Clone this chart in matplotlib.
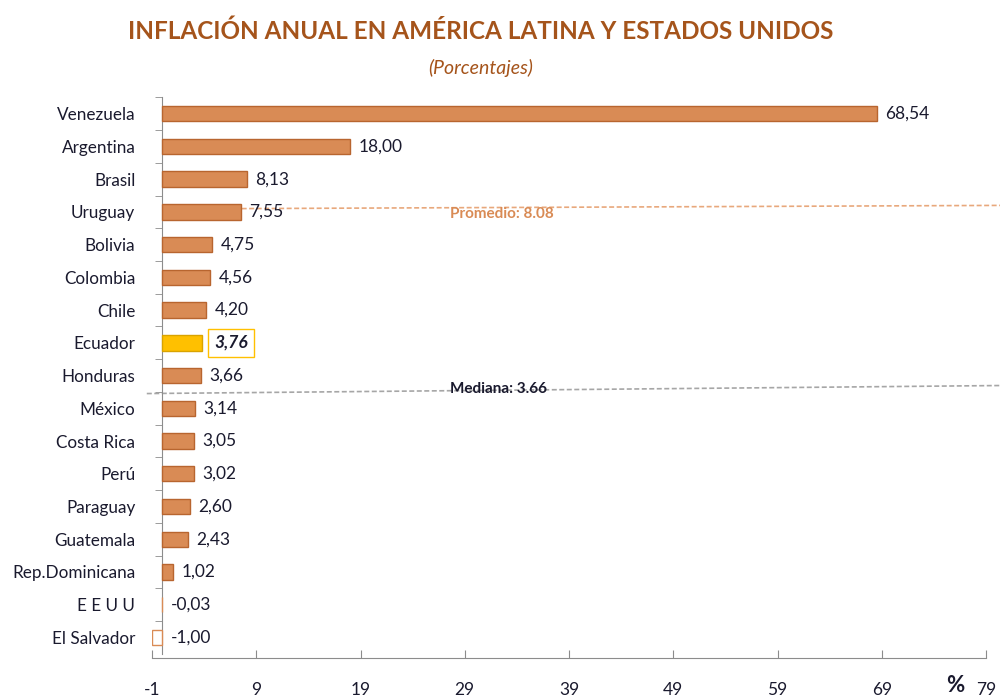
"""Annual inflation bar chart, Latin America and US."""
import matplotlib

matplotlib.use("Agg")
from matplotlib import pyplot as plt

countries = [
    "Venezuela", "Argentina", "Brasil", "Uruguay", "Bolivia", "Colombia", "Chile",
    "Ecuador", "Honduras", "México", "Costa Rica", "Perú", "Paraguay", "Guatemala",
    "Rep.Dominicana", "E E U U", "El Salvador",
]
inflation = [68.54, 18.00, 8.13, 7.55, 4.75, 4.56, 4.20, 3.76, 3.66, 3.14, 3.05,
             3.02, 2.60, 2.43, 1.02, -0.03, -1.00]
value_labels = ["68,54", "18,00", "8,13", "7,55", "4,75", "4,56", "4,20", "3,76", "3,66",
                "3,14", "3,05", "3,02", "2,60", "2,43", "1,02", "-0,03", "-1,00"]
x_ticks = [-1, 9, 19, 29, 39, 49, 59, 69, 79]
promedio = 8.08
mediana = 3.66
highlight = "Ecuador"

BAR = "#D98B55"
EDGE = "#B8652F"
YELLOW = "#FFC000"
TITLE = "#A5541B"
TEXT = "#1a1a2e"

plt.rcParams["font.family"] = ["Lato", "DejaVu Sans"]

fig = plt.figure(figsize=(10, 7), dpi=100)
ax = fig.add_axes([0.152, 0.066, 0.834, 0.795])

ypos = list(range(len(countries)))
for y, name, val in zip(ypos, countries, inflation):
    if name == highlight:
        face, edge = YELLOW, "#D9A300"
    elif val < 0:
        face, edge = "white", BAR
    else:
        face, edge = BAR, EDGE
    ax.barh(y, val, height=0.47, color=face, edgecolor=edge, linewidth=1.0, zorder=3)

for y, name, val, lab in zip(ypos, countries, inflation, value_labels):
    x = max(val, 0) + 0.8
    if name == highlight:
        ax.text(x + 0.4, y, lab, va="center", ha="left", fontsize=12.5, color=TEXT,
                fontweight="bold", fontstyle="italic",
                bbox=dict(boxstyle="square,pad=0.35", fc="white", ec=YELLOW, lw=1.0))
    else:
        ax.text(x, y, lab, va="center", ha="left", fontsize=12.5, color=TEXT)

ax.set_xlim(x_ticks[0], x_ticks[-1])
ax.set_ylim(len(countries) - 0.5, -0.5)
ax.set_xticks(x_ticks)
ax.set_xticklabels([str(t) for t in x_ticks])
ax.set_yticks(ypos)
ax.set_yticklabels(countries)
ax.set_yticks([y + 0.5 for y in ypos[:-1]] + [-0.5], minor=True)
ax.tick_params(axis="y", which="major", length=0, pad=19.5, labelsize=12.3, labelcolor=TEXT)
ax.tick_params(axis="y", which="minor", length=5, direction="out", color="#8c8c8c")
ax.tick_params(axis="x", length=6, direction="in", color="#8c8c8c", pad=17,
               labelsize=12.5, labelcolor=TEXT)

for side in ("top", "right"):
    ax.spines[side].set_visible(False)
ax.spines["left"].set_position(("data", 0))
ax.spines["left"].set_color("#8c8c8c")
ax.spines["bottom"].set_color("#8c8c8c")
ax.spines["bottom"].set_position(("outward", 3))

# reference lines (extend past the axes like the original)
ax.plot([7.6, 82], [2.9, 2.8], color="#E8A87C", linestyle=(0, (3, 1.5)), lw=1.2,
        clip_on=False, zorder=2)
ax.text(27.6, 3.05, f"Promedio: {promedio:.2f}", color=BAR, fontsize=11,
        fontweight="bold", va="center", ha="left")
ax.plot([-1.5, 82], [8.55, 8.3], color="#A6A6A6", linestyle=(0, (3, 1.5)), lw=1.2,
        clip_on=False, zorder=2)
ax.text(27.6, 8.42, f"Mediana: {mediana:.2f}", color=TEXT, fontsize=11,
        fontweight="bold", va="center", ha="left")

fig.text(0.955, 0.012, "%", fontsize=16, fontweight="bold", color=TEXT, ha="center")
fig.text(0.481, 0.955, "INFLACIÓN ANUAL EN AMÉRICA LATINA Y ESTADOS UNIDOS",
         fontsize=17.5, fontweight="bold", color=TITLE, ha="center", va="center")
fig.text(0.481, 0.903, "(Porcentajes)", fontsize=14, fontstyle="italic", color=TITLE,
         ha="center", va="center")

fig.savefig("out.png")
plt.close(fig)
